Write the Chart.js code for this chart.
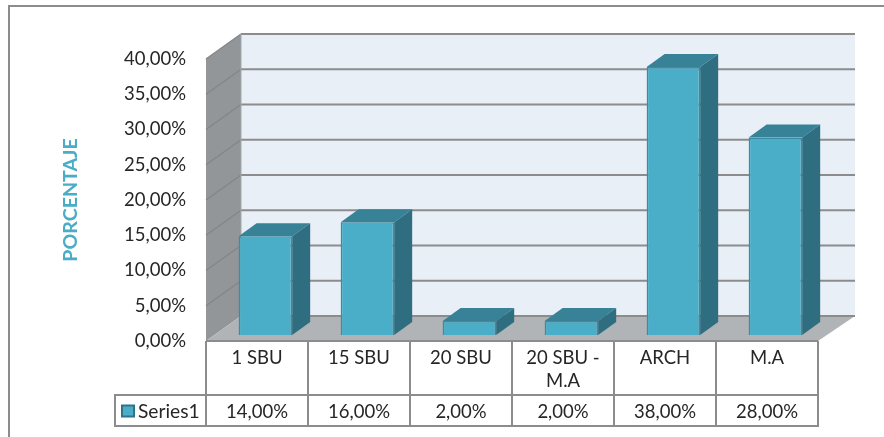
<!DOCTYPE html>
<html>
<head>
<meta charset="utf-8">
<title>Porcentaje</title>
<script src="https://cdn.jsdelivr.net/npm/chart.js@4"></script>
<style>
  html, body { margin: 0; padding: 0; background: #fff; overflow: hidden; }
  canvas { display: block; }
</style>
</head>
<body>
<canvas id="grafico" width="884" height="437"></canvas>
<script>
const categorias = [["1 SBU"], ["15 SBU"], ["20 SBU"], ["20 SBU -", "M.A"], ["ARCH"], ["M.A"]];
const valores = [14, 16, 2, 2, 38, 28];
const nombreSerie = "Series1";
const tituloEje = "PORCENTAJE";

const FUENTE = "Lato, Carlito, sans-serif";
const GRIS = "#8c8c8c";
const formatoPct = (v) => v.toFixed(2).replace(".", ",") + "%";

// fake 3D: how far the back wall and the bars sit behind the front plane
const FONDO_IZQ = 35, FONDO_DER = 37, FONDO_Y = 25;
const BARRA_X = 8.4, BARRA_Y = 6;
const LADO_X = 18, LADO_Y = 13;

function poligono(ctx, puntos, relleno) {
  ctx.beginPath();
  puntos.forEach((p, i) => (i ? ctx.lineTo(p[0], p[1]) : ctx.moveTo(p[0], p[1])));
  ctx.closePath();
  ctx.fillStyle = relleno;
  ctx.fill();
}

function linea(ctx, x1, y1, x2, y2, color, ancho) {
  ctx.beginPath();
  ctx.moveTo(x1, y1);
  ctx.lineTo(x2, y2);
  ctx.strokeStyle = color;
  ctx.lineWidth = ancho;
  ctx.stroke();
}

const caja3d = {
  id: "caja3d",
  beforeDatasetsDraw(chart) {
    const { ctx, chartArea: a, scales } = chart;
    const izq = a.left + FONDO_IZQ, der = a.right + FONDO_DER;
    ctx.save();

    // marco del grafico (se corta en los bordes de la imagen)
    ctx.lineCap = "butt";
    linea(ctx, 9, 437, 9, 6, GRIS, 2);
    linea(ctx, 8, 6, 884, 6, GRIS, 2);

    poligono(ctx, [[izq, a.top - FONDO_Y], [der, a.top - FONDO_Y], [der, a.bottom - FONDO_Y], [izq, a.bottom - FONDO_Y]], "#e8eff7");
    poligono(ctx, [[a.left, a.top], [izq, a.top - FONDO_Y], [izq, a.bottom - FONDO_Y], [a.left, a.bottom]], "#939699");
    poligono(ctx, [[a.left, a.bottom], [izq, a.bottom - FONDO_Y], [der, a.bottom - FONDO_Y], [a.right, a.bottom]], "#b1b4b7");

    scales.y.ticks.forEach((t) => {
      const y = scales.y.getPixelForValue(t.value);
      if (t.value > 0) {
        linea(ctx, a.left, y, izq, y - FONDO_Y, "#84878a", 1.5);
      }
      linea(ctx, izq, y - FONDO_Y, der, y - FONDO_Y, GRIS, 2);
    });
    linea(ctx, izq, a.top - FONDO_Y, izq, a.bottom - FONDO_Y, "#a5a8ab", 1);
    ctx.restore();
  },
  beforeDatasetDraw(chart, args) {
    const { ctx } = chart;
    // caras de arriba y de costado, tomadas de cada barra ya ubicada por las escalas
    chart.getDatasetMeta(args.index).data.forEach((barra) => {
      const der = barra.x + barra.width / 2 + BARRA_X;
      const izq = barra.x - barra.width / 2 + BARRA_X;
      const arriba = barra.y - BARRA_Y;
      const abajo = barra.base - BARRA_Y;
      poligono(ctx, [[izq, arriba], [izq + LADO_X, arriba - LADO_Y], [der + LADO_X, arriba - LADO_Y], [der, arriba]], "#378297");
      poligono(ctx, [[der, arriba], [der + LADO_X, arriba - LADO_Y], [der + LADO_X, abajo - LADO_Y], [der, abajo]], "#2f6e80");
    });
    // la cara frontal la dibuja Chart.js, corrida hacia el fondo de la caja
    ctx.save();
    ctx.translate(BARRA_X, -BARRA_Y);
  },
  afterDatasetDraw(chart) {
    chart.ctx.restore();
  },
  afterDraw(chart) {
    const { ctx, chartArea: a, scales } = chart;
    const filaTabla = 395, finTabla = 426, inicioLeyenda = 115;
    ctx.save();

    // tabla de datos
    linea(ctx, a.left, a.bottom, a.right, a.bottom, GRIS, 2);
    linea(ctx, inicioLeyenda, filaTabla, a.right, filaTabla, GRIS, 2);
    linea(ctx, inicioLeyenda, finTabla, a.right, finTabla, GRIS, 2);
    linea(ctx, inicioLeyenda, filaTabla - 1, inicioLeyenda, finTabla + 1, GRIS, 2);
    const anchoCol = (a.right - a.left) / categorias.length;
    for (let i = 0; i <= categorias.length; i++) {
      const x = a.left + i * anchoCol;
      linea(ctx, x, a.bottom, x, finTabla + 1, GRIS, 2);
    }

    // fila de la serie
    ctx.font = "18.5px " + FUENTE;
    ctx.fillStyle = "#262626";
    ctx.textBaseline = "middle";
    ctx.textAlign = "center";
    valores.forEach((v, i) => {
      ctx.fillText(formatoPct(v), scales.x.getPixelForValue(i), 412);
    });
    ctx.textAlign = "left";
    ctx.font = "19.2px " + FUENTE;
    ctx.fillText(nombreSerie, 138, 412);

    ctx.fillStyle = "#4aaec9";
    ctx.fillRect(122, 405.5, 12, 11);
    ctx.strokeStyle = "#2f7388";
    ctx.lineWidth = 2;
    ctx.strokeRect(122, 405.5, 12, 11);
    ctx.restore();
  },
};

new Chart(document.getElementById("grafico"), {
  type: "bar",
  data: {
    labels: categorias,
    datasets: [
      {
        label: nombreSerie,
        data: valores,
        backgroundColor: "#4aaec9",
        borderColor: "#3a8ba3",
        borderWidth: 1.5,
        categoryPercentage: 1,
        barPercentage: 0.525,
        clip: false,
      },
    ],
  },
  options: {
    responsive: false,
    animation: false,
    layout: { padding: { top: 59, right: 66, bottom: 0, left: 0 } },
    scales: {
      x: {
        grid: { display: false, drawTicks: false },
        border: { display: false },
        afterFit: (escala) => { escala.height = 96; },
        ticks: {
          color: "#262626",
          font: { family: FUENTE, size: 18.5, lineHeight: 1.25 },
          padding: 5,
          maxRotation: 0,
          autoSkip: false,
        },
      },
      y: {
        min: 0,
        max: 40,
        grid: { display: false, drawTicks: false },
        border: { display: false },
        afterFit: (escala) => { escala.width = 206; },
        title: {
          display: true,
          text: tituloEje,
          color: "#4bacc6",
          font: { family: FUENTE, size: 19.6, weight: "bold" },
          padding: { top: 59, bottom: 0 },
        },
        ticks: {
          stepSize: 5,
          color: "#262626",
          font: { family: FUENTE, size: 18.5 },
          padding: 20,
          callback: (valor) => formatoPct(valor),
        },
      },
    },
    plugins: {
      legend: { display: false },
      tooltip: { enabled: false },
    },
  },
  plugins: [caja3d],
});
</script>
</body>
</html>
